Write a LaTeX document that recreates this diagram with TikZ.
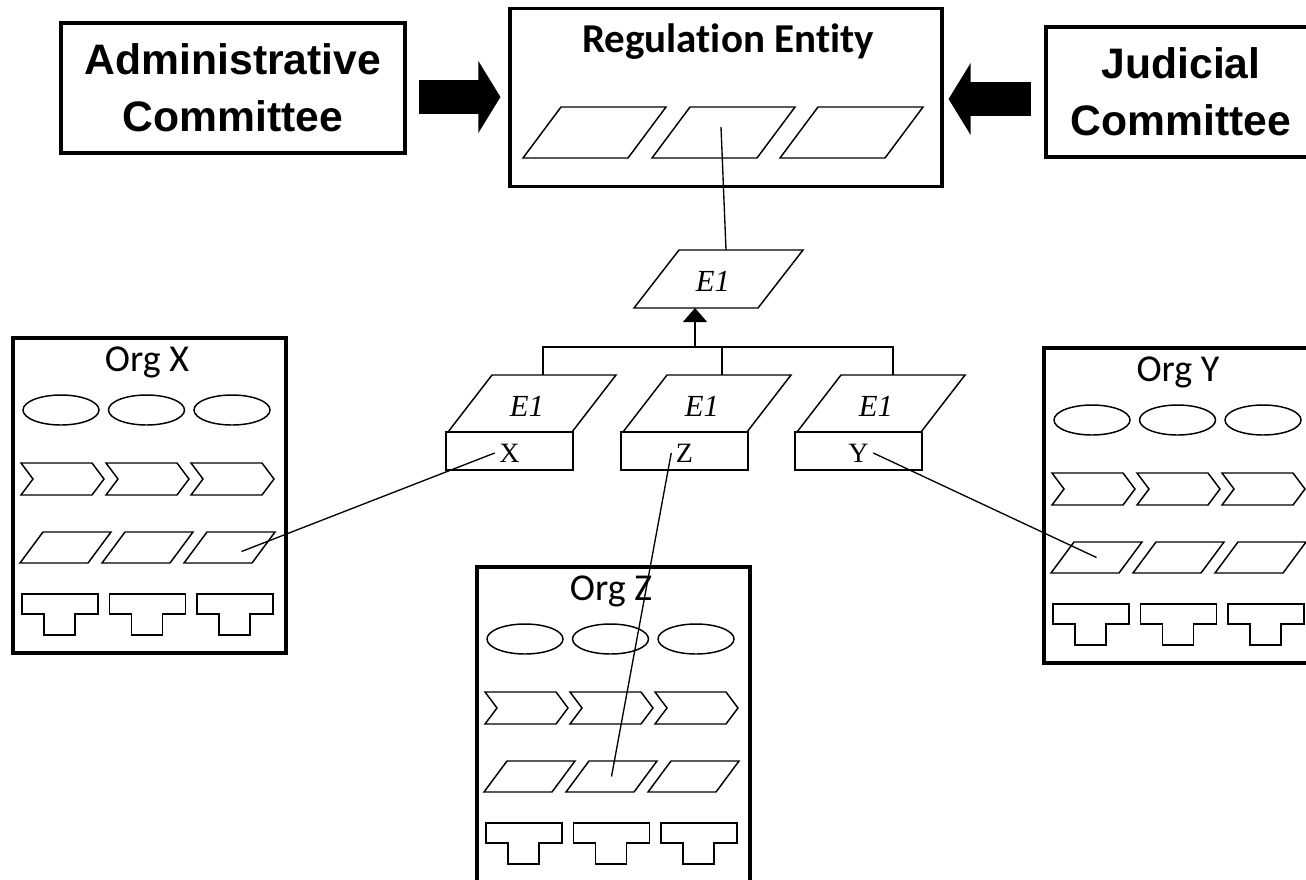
\documentclass[tikz,border=0pt]{standalone}
\usepackage{fontspec}
\setmainfont{Liberation Serif}
\setsansfont{Liberation Sans}
\newfontfamily\orgfont[Ligatures=NoCommon]{Carlito}
\usetikzlibrary{arrows.meta}

\tikzset{
  thinshape/.style={line width=1.1pt},
  link/.style={line width=1pt},
  orgframe/.style={line width=2.4pt},
  cmtbox/.style={draw, line width=3pt, minimum height=97.5pt, align=center,
    font=\sffamily\bfseries\fontsize{32}{42.5}\selectfont},
  bigarrow/.style={line width=25.5pt, -{Triangle[length=16.5pt 0 0, width=53pt 0 0]}},
  entlabel/.style={font=\itshape\fontsize{23}{27}\selectfont},
  keylabel/.style={font=\fontsize{21}{25}\selectfont},
  orglabel/.style={font=\orgfont\fontsize{28.5}{34}\selectfont}
}

\begin{document}
\begin{tikzpicture}[x=0.75pt,y=-0.75pt]
      % Parallelogram, bottom-left corner, width, height, slant
      \newcommand\plgram[5]{
        \draw[thinshape] (#1,#2) -- ++(#3,0) -- ++(#5,-#4) -- ++(-#3,0) -- cycle;
      }
      % Sub entity with key box
      \newcommand\subent[4]{
        \plgram{#2+2}{432}{124}{57}{44}
        \draw[line width=1.3pt] (#2,432) rectangle ++(127,38);
        \node[entlabel] (#1) at (#2+81,406) {E1};
        \node[keylabel] (#1-key) at (#2+63.5,453) {#3};
        \coordinate (#1-top) at (#4,375);
      }
      % Organisation box
      \newcommand\orgbox[4]{
        \draw[orgframe] (#2,#3) rectangle ++(273,315);
        \node[orglabel, anchor=base] (#1) at (#2+134,#3+33) {#4};
        \foreach \col in {0,1,2} {
          \draw[thinshape] (#2+48+85.5*\col,#3+72) ellipse [x radius=28.5pt, y radius=11.25pt];
          \draw[thinshape] (#2+8+85*\col,#3+125) -- ++(71,0) -- ++(12,16) -- ++(-12,16)
            -- ++(-71,0) -- ++(12,-16) -- cycle;
          \plgram{#2+7+82*\col}{#3+225}{68}{31}{23}
          \coordinate (#1-p\col) at (#2+52.5+82*\col,#3+209.5);
          \draw[thinshape] (#2+9+87.5*\col,#3+256) -- ++(76,0) -- ++(0,20) -- ++(-23,0)
            -- ++(0,21) -- ++(-31,0) -- ++(0,-21) -- ++(-22,0) -- cycle;
        }
      }
      \fill[white] (0,0) rectangle (1306,879);
      \useasboundingbox (0,0) rectangle (1306,879);

      % Committees and regulation entity
      \node[cmtbox, minimum width=258pt] (adm) at (233,88) {Administrative\\Committee};
      \node[cmtbox, minimum width=202.5pt] (jud) at (1181,91.5) {Judicial\\Committee};
      \node[draw, line width=2.3pt, minimum width=324pt, minimum height=134pt] (reg) at (726,97.5) {};
      \node[font=\orgfont\bfseries\fontsize{30.75}{36}\selectfont, anchor=base] (regt) at (728,52) {Regulation Entity};
      \foreach \i/\px in {1/523, 2/652, 3/780} {
        \plgram{\px}{158}{105}{51}{38}
      }
      \coordinate (regmid) at (721,127);

      % Block arrows
      \coordinate (atail) at ([shift={(12,9)}]adm.east);
      \draw[bigarrow] (atail) -- ([xshift=-6pt]atail -| reg.west);
      \coordinate (jtail) at ([shift={(-13,7.5)}]jud.west);
      \draw[bigarrow] (jtail) -- ([xshift=3.75pt]jtail -| reg.east);

      % Common entity
      \plgram{634}{308}{124}{58}{45}
      \node[entlabel] (e1) at (713,281) {E1};
      \coordinate (e1top) at (726,250);
      \coordinate (e1bot) at (695,308);
      \coordinate (hub) at (695,347);
      \draw[link] (regmid) -- (e1top);
      \draw[link, -{Triangle[length=10.5pt 0 0, width=18pt 0 0]}] (hub) -- (e1bot);

      % Local entities
      \subent{cx}{446}{X}{543}
      \subent{cz}{621}{Z}{722}
      \subent{cy}{795}{Y}{893}
      \draw[link] (cx-top) |- (hub) -| (cy-top);
      \draw[link] (cz-top) -- (cz-top |- hub);

      % Organisations
      \orgbox{ox}{13}{338}{Org X}
      \orgbox{oz}{477}{567}{Org Z}
      \orgbox{oy}{1044}{348}{Org Y}

      % Mappings
      \draw[link] (cx-key.west) -- ([shift={(12,4)}]ox-p2);
      \draw[link] (cz-key.west) -- (oz-p1);
      \draw[link] (cy-key.east) -- (oy-p0);
    \end{tikzpicture}
\end{document}
